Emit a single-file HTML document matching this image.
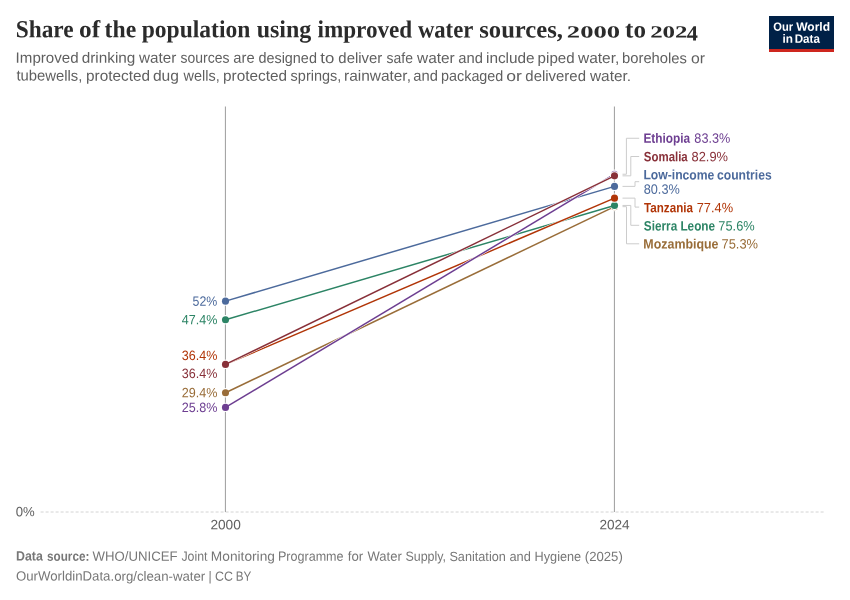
<!DOCTYPE html>
<html lang="en">
<head>
<meta charset="utf-8">
<title>Share of the population using improved water sources, 2000 to 2024</title>
<style>
html,body{margin:0;padding:0;background:#fff;}
body{width:850px;height:600px;overflow:hidden;font-family:"Liberation Sans",sans-serif;}
svg{display:block;}
</style>
</head>
<body>
<svg width="850" height="600" viewBox="0 0 850 600">
<rect width="850" height="600" fill="#fff"/>
<line x1="40.6" y1="512" x2="825" y2="512" stroke="#d4d4d4" stroke-width="1" stroke-dasharray="3,2"/>
<line x1="225.4" y1="106.5" x2="225.4" y2="512" stroke="#9c9c9c" stroke-width="1"/>
<line x1="614.4" y1="106.5" x2="614.4" y2="512" stroke="#9c9c9c" stroke-width="1"/>
<g fill="none" stroke="#ccc" stroke-width="1"><path d="M622.5,174.22H626.4V138.25H639.2"/><path d="M622.5,175.84H630.8V156.5H639.2"/><path d="M622.5,186.38H635.0V181.7H639.2"/><path d="M622.5,198.14H635.0V207.1H639.2"/><path d="M622.5,205.44H630.8V225.3H639.2"/><path d="M622.5,206.66H626.5V243.8H639.2"/></g>
<g stroke="none" fill="#996D39"><line x1="225.5" y1="392.78" x2="614.5" y2="206.66" stroke="#fff" stroke-width="2.5"/><circle cx="225.5" cy="392.78" r="4.7" fill="#fff"/><circle cx="614.5" cy="206.66" r="4.7" fill="#fff"/><line x1="225.5" y1="392.78" x2="614.5" y2="206.66" stroke="#996D39" stroke-width="1.5"/><circle cx="225.5" cy="392.78" r="3.55"/><circle cx="614.5" cy="206.66" r="3.55"/></g>
<g stroke="none" fill="#2C8465"><line x1="225.5" y1="319.79" x2="614.5" y2="205.44" stroke="#fff" stroke-width="2.5"/><circle cx="225.5" cy="319.79" r="4.7" fill="#fff"/><circle cx="614.5" cy="205.44" r="4.7" fill="#fff"/><line x1="225.5" y1="319.79" x2="614.5" y2="205.44" stroke="#2C8465" stroke-width="1.5"/><circle cx="225.5" cy="319.79" r="3.55"/><circle cx="614.5" cy="205.44" r="3.55"/></g>
<g stroke="none" fill="#B13507"><line x1="225.5" y1="364.4" x2="614.5" y2="198.14" stroke="#fff" stroke-width="2.5"/><circle cx="225.5" cy="364.4" r="4.7" fill="#fff"/><circle cx="614.5" cy="198.14" r="4.7" fill="#fff"/><line x1="225.5" y1="364.4" x2="614.5" y2="198.14" stroke="#B13507" stroke-width="1.5"/><circle cx="225.5" cy="364.4" r="3.55"/><circle cx="614.5" cy="198.14" r="3.55"/></g>
<g stroke="none" fill="#4C6A9C"><line x1="225.5" y1="301.14" x2="614.5" y2="186.38" stroke="#fff" stroke-width="2.5"/><circle cx="225.5" cy="301.14" r="4.7" fill="#fff"/><circle cx="614.5" cy="186.38" r="4.7" fill="#fff"/><line x1="225.5" y1="301.14" x2="614.5" y2="186.38" stroke="#4C6A9C" stroke-width="1.5"/><circle cx="225.5" cy="301.14" r="3.55"/><circle cx="614.5" cy="186.38" r="3.55"/></g>
<g stroke="none" fill="#6D3E91"><line x1="225.5" y1="407.38" x2="614.5" y2="174.22" stroke="#fff" stroke-width="2.5"/><circle cx="225.5" cy="407.38" r="4.7" fill="#fff"/><circle cx="614.5" cy="174.22" r="4.7" fill="#fff"/><line x1="225.5" y1="407.38" x2="614.5" y2="174.22" stroke="#6D3E91" stroke-width="1.5"/><circle cx="225.5" cy="407.38" r="3.55"/><circle cx="614.5" cy="174.22" r="3.55"/></g>
<g stroke="none" fill="#883039"><line x1="225.5" y1="364.4" x2="614.5" y2="175.84" stroke="#fff" stroke-width="2.5"/><circle cx="225.5" cy="364.4" r="4.7" fill="#fff"/><circle cx="614.5" cy="175.84" r="4.7" fill="#fff"/><line x1="225.5" y1="364.4" x2="614.5" y2="175.84" stroke="#883039" stroke-width="1.5"/><circle cx="225.5" cy="364.4" r="3.55"/><circle cx="614.5" cy="175.84" r="3.55"/></g>
<g>
<rect x="769" y="16" width="65" height="36" fill="#002147"/>
<rect x="769" y="49" width="65" height="3" fill="#ce261e"/>
<text y="30.8" transform="rotate(0.035 801.5 30.8)" font-family="'Liberation Sans', sans-serif" font-size="12" font-weight="700" fill="#fff"><tspan x="773.34" textLength="19.83" lengthAdjust="spacingAndGlyphs">Our</tspan> <tspan x="796.19" textLength="33.8" lengthAdjust="spacingAndGlyphs">World</tspan></text>
<text y="42.8" transform="rotate(0.035 801.6 42.8)" font-family="'Liberation Sans', sans-serif" font-size="12" font-weight="700" fill="#fff"><tspan x="782.48" textLength="10.45" lengthAdjust="spacingAndGlyphs">in</tspan> <tspan x="794.72" textLength="25.2" lengthAdjust="spacingAndGlyphs">Data</tspan></text>
</g>
<text y="37.4" transform="rotate(0.035 357.2 37.4)" font-family="'Liberation Serif', serif" font-size="24.5" font-weight="700" fill="#2b2b2b"><tspan x="15.77" textLength="57.83" lengthAdjust="spacingAndGlyphs">Share</tspan> <tspan x="79.03" textLength="21.12" lengthAdjust="spacingAndGlyphs">of</tspan> <tspan x="104.62" textLength="31.6" lengthAdjust="spacingAndGlyphs">the</tspan> <tspan x="141.7" textLength="108.66" lengthAdjust="spacingAndGlyphs">population</tspan> <tspan x="256.64" textLength="54.6" lengthAdjust="spacingAndGlyphs">using</tspan> <tspan x="317.49" textLength="94.77" lengthAdjust="spacingAndGlyphs">improved</tspan> <tspan x="417.93" textLength="54.95" lengthAdjust="spacingAndGlyphs">water</tspan> <tspan x="479.26" textLength="83.67" lengthAdjust="spacingAndGlyphs">sources,</tspan> <tspan x="566.88" textLength="53.13" lengthAdjust="spacingAndGlyphs" font-size="17">2000</tspan> <tspan x="625.1" textLength="20.86" lengthAdjust="spacingAndGlyphs">to</tspan> <tspan x="650.15" textLength="37.42" lengthAdjust="spacingAndGlyphs" font-size="17">202</tspan><tspan x="686.7" textLength="11.12" lengthAdjust="spacingAndGlyphs" font-size="21.5" dy="3">4</tspan></text>
<text y="62.95" transform="rotate(0.035 360.9 62.95)" font-family="'Liberation Sans', sans-serif" font-size="15" fill="#5f5f5f"><tspan x="15.61" textLength="62.97" lengthAdjust="spacingAndGlyphs">Improved</tspan> <tspan x="81.76" textLength="53.63" lengthAdjust="spacingAndGlyphs">drinking</tspan> <tspan x="139.02" textLength="37.23" lengthAdjust="spacingAndGlyphs">water</tspan> <tspan x="180.61" textLength="48.89" lengthAdjust="spacingAndGlyphs">sources</tspan> <tspan x="233.37" textLength="21.28" lengthAdjust="spacingAndGlyphs">are</tspan> <tspan x="258.39" textLength="58.54" lengthAdjust="spacingAndGlyphs">designed</tspan> <tspan x="320.35" textLength="13.96" lengthAdjust="spacingAndGlyphs">to</tspan> <tspan x="338.37" textLength="43.87" lengthAdjust="spacingAndGlyphs">deliver</tspan> <tspan x="386.61" textLength="26.41" lengthAdjust="spacingAndGlyphs">safe</tspan> <tspan x="417.02" textLength="37.63" lengthAdjust="spacingAndGlyphs">water</tspan> <tspan x="458.37" textLength="24.58" lengthAdjust="spacingAndGlyphs">and</tspan> <tspan x="485.97" textLength="48.71" lengthAdjust="spacingAndGlyphs">include</tspan> <tspan x="537.63" textLength="36.95" lengthAdjust="spacingAndGlyphs">piped</tspan> <tspan x="578.02" textLength="41.34" lengthAdjust="spacingAndGlyphs">water,</tspan> <tspan x="622.05" textLength="64.89" lengthAdjust="spacingAndGlyphs">boreholes</tspan> <tspan x="690.94" textLength="14.02" lengthAdjust="spacingAndGlyphs">or</tspan></text>
<text y="80.8" transform="rotate(0.035 323.1 80.8)" font-family="'Liberation Sans', sans-serif" font-size="15" fill="#5f5f5f"><tspan x="16.38" textLength="65.96" lengthAdjust="spacingAndGlyphs">tubewells,</tspan> <tspan x="86.01" textLength="63.98" lengthAdjust="spacingAndGlyphs">protected</tspan> <tspan x="152.94" textLength="26.06" lengthAdjust="spacingAndGlyphs">dug</tspan> <tspan x="183.62" textLength="36.08" lengthAdjust="spacingAndGlyphs">wells,</tspan> <tspan x="223.01" textLength="63.98" lengthAdjust="spacingAndGlyphs">protected</tspan> <tspan x="290.6" textLength="50.7" lengthAdjust="spacingAndGlyphs">springs,</tspan> <tspan x="343.99" textLength="66.98" lengthAdjust="spacingAndGlyphs">rainwater,</tspan> <tspan x="413.37" textLength="24.58" lengthAdjust="spacingAndGlyphs">and</tspan> <tspan x="441.07" textLength="62.25" lengthAdjust="spacingAndGlyphs">packaged</tspan> <tspan x="506.26" textLength="15.63" lengthAdjust="spacingAndGlyphs">or</tspan> <tspan x="525.37" textLength="60.59" lengthAdjust="spacingAndGlyphs">delivered</tspan> <tspan x="590.02" textLength="40.95" lengthAdjust="spacingAndGlyphs">water.</tspan></text>
<text y="142.7" transform="rotate(0.035 687.0 142.7)" font-family="'Liberation Sans', sans-serif" font-size="13.6" fill="#6D3E91"><tspan x="643.41" textLength="46.72" lengthAdjust="spacingAndGlyphs" font-size="13.6" font-weight="700">Ethiopia</tspan> <tspan x="694.35" textLength="35.9" lengthAdjust="spacingAndGlyphs">83.3%</tspan></text>
<text y="161.2" transform="rotate(0.035 685.9 161.2)" font-family="'Liberation Sans', sans-serif" font-size="13.6" fill="#883039"><tspan x="643.87" textLength="43.86" lengthAdjust="spacingAndGlyphs" font-size="13.6" font-weight="700">Somalia</tspan> <tspan x="691.54" textLength="36.42" lengthAdjust="spacingAndGlyphs">82.9%</tspan></text>
<text y="212.2" transform="rotate(0.035 688.4 212.2)" font-family="'Liberation Sans', sans-serif" font-size="13.6" fill="#B13507"><tspan x="644.07" textLength="48.86" lengthAdjust="spacingAndGlyphs" font-size="13.6" font-weight="700">Tanzania</tspan> <tspan x="696.74" textLength="36.31" lengthAdjust="spacingAndGlyphs">77.4%</tspan></text>
<text y="230.6" transform="rotate(0.035 699.2 230.6)" font-family="'Liberation Sans', sans-serif" font-size="13.6" fill="#2C8465"><tspan x="643.86" textLength="33.33" lengthAdjust="spacingAndGlyphs" font-size="13.6" font-weight="700">Sierra</tspan> <tspan x="680.42" textLength="34.68" lengthAdjust="spacingAndGlyphs" font-size="13.6" font-weight="700">Leone</tspan> <tspan x="718.34" textLength="36.31" lengthAdjust="spacingAndGlyphs">75.6%</tspan></text>
<text y="248.6" transform="rotate(0.035 700.9 248.6)" font-family="'Liberation Sans', sans-serif" font-size="13.6" fill="#996D39"><tspan x="643.37" textLength="75.15" lengthAdjust="spacingAndGlyphs" font-size="13.6" font-weight="700">Mozambique</tspan> <tspan x="721.54" textLength="36.52" lengthAdjust="spacingAndGlyphs">75.3%</tspan></text>
<text y="179.4" transform="rotate(0.035 707.7 179.4)" font-family="'Liberation Sans', sans-serif" font-size="13.6" fill="#4C6A9C"><tspan x="643.39" textLength="71.03" lengthAdjust="spacingAndGlyphs" font-size="13.6" font-weight="700">Low-income</tspan> <tspan x="717.03" textLength="54.67" lengthAdjust="spacingAndGlyphs" font-size="13.6" font-weight="700">countries</tspan></text>
<text y="193.85" transform="rotate(0.035 661.8 193.85)" font-family="'Liberation Sans', sans-serif" font-size="13.6" fill="#4C6A9C"><tspan x="643.75" textLength="36.0" lengthAdjust="spacingAndGlyphs">80.3%</tspan></text>
<text y="305.8" transform="rotate(0.035 205.0 305.8)" font-family="'Liberation Sans', sans-serif" font-size="13.5" fill="#4C6A9C"><tspan x="192.61" textLength="24.74" lengthAdjust="spacingAndGlyphs">52%</tspan></text>
<text y="324.2" transform="rotate(0.035 199.5 324.2)" font-family="'Liberation Sans', sans-serif" font-size="13.5" fill="#2C8465"><tspan x="181.81" textLength="35.53" lengthAdjust="spacingAndGlyphs">47.4%</tspan></text>
<text y="359.95" transform="rotate(0.035 199.6 359.95)" font-family="'Liberation Sans', sans-serif" font-size="13.5" fill="#B13507"><tspan x="181.82" textLength="35.52" lengthAdjust="spacingAndGlyphs">36.4%</tspan></text>
<text y="378.05" transform="rotate(0.035 199.6 378.05)" font-family="'Liberation Sans', sans-serif" font-size="13.5" fill="#883039"><tspan x="181.82" textLength="35.52" lengthAdjust="spacingAndGlyphs">36.4%</tspan></text>
<text y="397.25" transform="rotate(0.035 199.6 397.25)" font-family="'Liberation Sans', sans-serif" font-size="13.5" fill="#996D39"><tspan x="181.67" textLength="35.68" lengthAdjust="spacingAndGlyphs">29.4%</tspan></text>
<text y="411.95" transform="rotate(0.035 199.6 411.95)" font-family="'Liberation Sans', sans-serif" font-size="13.5" fill="#6D3E91"><tspan x="181.67" textLength="35.68" lengthAdjust="spacingAndGlyphs">25.8%</tspan></text>
<text y="516.3" transform="rotate(0.035 25.3 516.3)" font-family="'Liberation Sans', sans-serif" font-size="13.5" fill="#616161"><tspan x="15.79" textLength="18.98" lengthAdjust="spacingAndGlyphs">0%</tspan></text>
<text y="529.2" transform="rotate(0.035 225.7 529.2)" font-family="'Liberation Sans', sans-serif" font-size="13.5" fill="#616161"><tspan x="210.41" textLength="30.42" lengthAdjust="spacingAndGlyphs">2000</tspan></text>
<text y="529.2" transform="rotate(0.035 614.7 529.2)" font-family="'Liberation Sans', sans-serif" font-size="13.5" fill="#616161"><tspan x="599.42" textLength="30.28" lengthAdjust="spacingAndGlyphs">2024</tspan></text>
<text y="560.8" transform="rotate(0.035 319.4 560.8)" font-family="'Liberation Sans', sans-serif" font-size="13.3" fill="#777777"><tspan x="15.97" textLength="26.85" lengthAdjust="spacingAndGlyphs" font-weight="700">Data</tspan> <tspan x="46.99" textLength="42.34" lengthAdjust="spacingAndGlyphs" font-weight="700">source:</tspan> <tspan x="92.54" textLength="84.99" lengthAdjust="spacingAndGlyphs">WHO/UNICEF</tspan> <tspan x="181.41" textLength="26.08" lengthAdjust="spacingAndGlyphs">Joint</tspan> <tspan x="210.88" textLength="64.01" lengthAdjust="spacingAndGlyphs">Monitoring</tspan> <tspan x="277.97" textLength="65.59" lengthAdjust="spacingAndGlyphs">Programme</tspan> <tspan x="347.81" textLength="15.41" lengthAdjust="spacingAndGlyphs">for</tspan> <tspan x="367.54" textLength="34.27" lengthAdjust="spacingAndGlyphs">Water</tspan> <tspan x="405.45" textLength="40.65" lengthAdjust="spacingAndGlyphs">Supply,</tspan> <tspan x="449.42" textLength="56.4" lengthAdjust="spacingAndGlyphs">Sanitation</tspan> <tspan x="509.46" textLength="21.37" lengthAdjust="spacingAndGlyphs">and</tspan> <tspan x="534.56" textLength="46.61" lengthAdjust="spacingAndGlyphs">Hygiene</tspan> <tspan x="584.78" textLength="38.03" lengthAdjust="spacingAndGlyphs">(2025)</tspan></text>
<text y="580.65" transform="rotate(0.035 133.8 580.65)" font-family="'Liberation Sans', sans-serif" font-size="13.3" fill="#777777"><tspan x="15.97" textLength="189.24" lengthAdjust="spacingAndGlyphs">OurWorldinData.org/clean-water</tspan> <tspan x="208.4" textLength="3.2" lengthAdjust="spacingAndGlyphs">|</tspan> <tspan x="214.97" textLength="17.9" lengthAdjust="spacingAndGlyphs">CC</tspan> <tspan x="235.64" textLength="15.62" lengthAdjust="spacingAndGlyphs">BY</tspan></text>
</svg>
</body>
</html>
